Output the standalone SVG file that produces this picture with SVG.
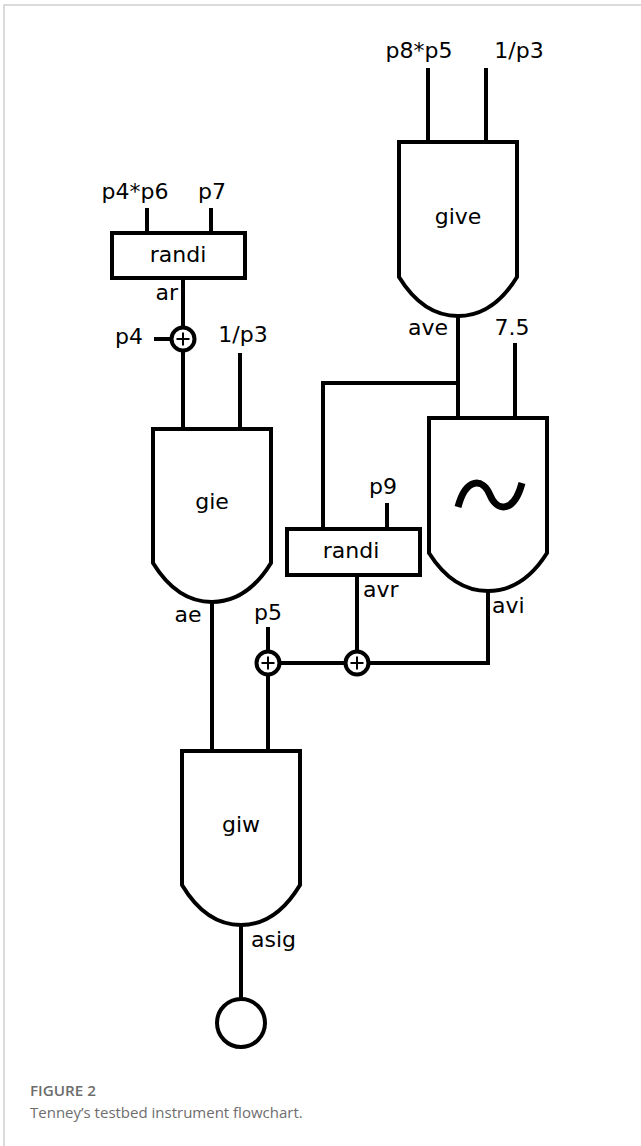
<svg xmlns="http://www.w3.org/2000/svg" width="641" height="1146" viewBox="0 0 641 1146">
<style>
.s{fill:none;stroke:#000;stroke-width:4}
.n{fill:#fff;stroke:#000;stroke-width:4}
.p{fill:none;stroke:#000;stroke-width:2}
.t{font-family:"DejaVu Sans",sans-serif;font-size:22px;fill:#000}
.m{text-anchor:middle}
.e{text-anchor:end}
.cap{font-family:"Open Sans","Noto Sans",sans-serif;font-size:15px;fill:#6d6d6d}
</style>
<rect width="641" height="1146" fill="#fff"/>
<path d="M4,1146 V5 H641" fill="none" stroke="#cfcfcf" stroke-width="1.5"/>
<g id="connectors" class="s">
<path d="M428,68 V142 M486,68 V142"/>
<path d="M147,208 V233 M211,208 V233"/>
<path d="M183,278 V327.5 M154,339 H171.5 M183,350.5 V429 M240,353 V429"/>
<path d="M458,316 V418 M515,343 V418 M458,383 H323 V529"/>
<path d="M387,503 V529"/>
<path d="M357,575 V651.5 M488,591 V663 H368.5 M345.5,663 H279.5 M268,627 V651.5"/>
<path d="M212,602 V751 M268,674.5 V751"/>
<path d="M241,925 V999"/>
</g>
<g id="give">
<path class="n" d="M399,142 H517 V277 Q493,316 458,316 Q423,316 399,277 Z"/>
<text class="t m" x="458" y="224">give</text>
</g>
<g id="randi1">
<rect class="n" x="112" y="233" width="133" height="45"/>
<text class="t m" x="178" y="262">randi</text>
</g>
<g id="add0">
<circle class="n" cx="183" cy="339" r="11.5"/>
<path class="p" d="M176.5,339 H189.5 M183,332.5 V345.5"/>
</g>
<g id="gie">
<path class="n" d="M153,429 H271 V563 Q247,602 212,602 Q177,602 153,563 Z"/>
<text class="t m" x="212" y="509">gie</text>
</g>
<g id="osc">
<path class="n" d="M429,418 H547 V553 Q523,591 488,591 Q453,591 429,553 Z"/>
<path d="M458,507 C466,477 483,478 490,495 C497,512 514,513 522,483" fill="none" stroke="#000" stroke-width="7"/>
</g>
<g id="randi2">
<rect class="n" x="287" y="529" width="133" height="46"/>
<text class="t m" x="351" y="558">randi</text>
</g>
<g id="add1">
<circle class="n" cx="268" cy="663" r="11.5"/>
<path class="p" d="M261.5,663 H274.5 M268,656.5 V669.5"/>
</g>
<g id="add2">
<circle class="n" cx="357" cy="663" r="11.5"/>
<path class="p" d="M350.5,663 H363.5 M357,656.5 V669.5"/>
</g>
<g id="giw">
<path class="n" d="M182,751 H300 V885 Q276,925 241,925 Q206,925 182,885 Z"/>
<text class="t m" x="241" y="832">giw</text>
</g>
<g id="out">
<circle class="n" cx="241" cy="1023" r="24"/>
</g>
<g id="labels" class="t">
<text class="m" x="419" y="58">p8*p5</text>
<text class="m" x="519" y="58">1/p3</text>
<text class="m" x="135" y="199">p4*p6</text>
<text class="m" x="212" y="199">p7</text>
<text class="e" x="178" y="300">ar</text>
<text class="m" x="129" y="344">p4</text>
<text class="m" x="243" y="342">1/p3</text>
<text class="e" x="448" y="335">ave</text>
<text class="m" x="512" y="335">7.5</text>
<text class="m" x="383" y="494">p9</text>
<text x="363" y="597">avr</text>
<text x="492" y="613">avi</text>
<text class="m" x="188" y="622">ae</text>
<text class="m" x="268" y="620">p5</text>
<text x="251" y="947">asig</text>
</g>
<g id="caption">
<text class="cap" x="30" y="1096" font-size="16" font-weight="600" textLength="66" lengthAdjust="spacingAndGlyphs">FIGURE 2</text>
<text class="cap" x="30" y="1118">Tenney’s testbed instrument flowchart.</text>
</g>
</svg>
